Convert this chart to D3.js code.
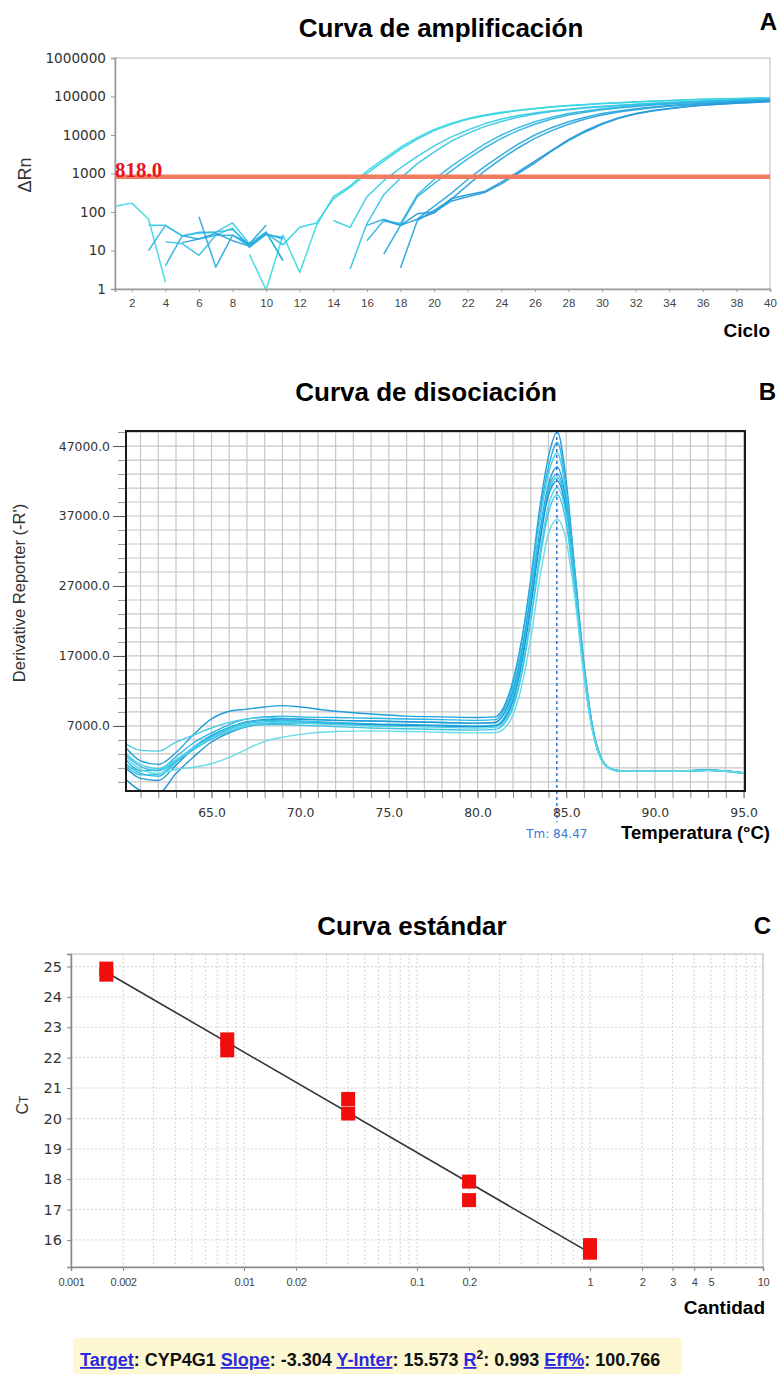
<!DOCTYPE html>
<html>
<head>
<meta charset="utf-8">
<script src="https://d3js.org/d3.v7.min.js"></script>
<style>
  html, body { margin: 0; padding: 0; background: #ffffff; }
  svg { display: block; }
</style>
</head>
<body>
<div id="chart"></div>
<script>
// ---------------- DATA ----------------
// Panel A: amplification curves (ΔRn per cycle; null = not plotted)
const cycles = [1,2,3,4,5,6,7,8,9,10,11,12,13,14,15,16,17,18,19,20,21,22,23,24,25,26,27,28,29,30,31,32,33,34,35,36,37,38,39,40];
const n = null;
const amp1  = [140,170,65,1.5,n,n,n,n,8,0.95,25,2.7,45,250,480,1150,2400,4800,8500,14000,20000,27000,33000,39000,44000,49000,54000,58000,62000,66000,69000,72000,75000,78000,81000,83000,85000,87000,88500,90000];
const amp2  = [n,n,n,n,n,n,n,n,n,n,14,40,52,220,440,1000,2100,4300,7800,13000,19000,25500,31500,37500,43000,48000,53000,57500,61500,65500,69000,72500,76000,79000,82000,84500,87000,89000,91000,93000];
const amp3  = [n,n,45,45,24,28,30,52,15,30,5.5,n,n,60,40,250,650,1400,2800,5200,8800,13500,19500,26000,32000,37500,42500,47000,51500,55500,59500,63000,66500,70000,73000,76000,79000,82000,85000,88000];
const amp4  = [n,n,n,17,15,7.5,25,38,12,26,22,n,n,n,3.3,50,280,750,1800,3600,6800,11000,16500,22500,29000,35000,40500,45500,50000,54000,58000,62000,65500,69000,72000,75000,78000,81000,84000,87000];
const amp5  = [n,n,10,45,24,30,30,35,14,28,14,n,n,n,n,18,60,50,280,700,1500,3000,5800,10000,15500,22000,29000,36000,42000,48000,53000,58000,62000,66000,70000,73000,76000,79000,82000,85000];
const amp6  = [n,n,n,4,24,20,25,25,13,30,5.5,n,n,n,n,45,65,45,250,550,1150,2400,4600,8200,13000,19000,26000,33000,39000,45000,50000,55000,60000,64000,68000,71500,75000,78000,81000,84000];
const amp7  = [n,n,n,n,n,75,3.7,25,15,45,n,n,n,n,n,n,8,45,65,140,300,700,1500,3000,5800,10000,15500,22000,29000,36000,42000,48000,53000,58000,62500,66500,70000,73500,76500,80000];
const amp8  = [n,n,n,n,16,20,28,18,13,27,20,n,n,n,n,n,n,3.5,60,110,210,500,1150,2400,4600,8200,13000,19000,26000,33000,39500,45500,51000,56000,60500,64500,68000,71500,74500,78000];
const amp9  = [n,n,n,n,n,n,n,n,n,n,n,n,n,n,n,n,60,45,90,100,190,250,320,540,1000,1900,3800,7200,12000,19000,27000,35000,42000,48000,54000,59000,63000,67000,70000,73000];
const amp10 = [n,n,n,n,n,n,n,n,n,n,n,n,n,n,n,n,n,n,65,95,220,280,340,600,1100,2100,4000,7600,13000,20000,28000,36000,43000,49000,55000,60000,64000,68000,71000,75000];
const ampSeries = [amp1, amp2, amp3, amp4, amp5, amp6, amp7, amp8, amp9, amp10];
const ampColors = ["#3fdae4","#38d4e3","#3dcce5","#3ac5e4","#34bae3","#2fb2e1","#2caadf","#2aa4dd","#289ddb","#289ad9"];
const ampYTicks = [1,10,100,1000,10000,100000,1000000];
const ampXTicks = [2,4,6,8,10,12,14,16,18,20,22,24,26,28,30,32,34,36,38,40];
const threshold = 818.0;

// Panel B: melt (dissociation) curves
const temps = [60.2,61,62,63,64,65,66,67,68,69,70,72,74,76,78,80,81,81.5,82,82.5,83,83.5,84,84.5,85,85.5,86,86.5,87,87.5,88,89,90,91,92,93,94,95];
const melt1  = [3800,2000,1500,3200,5800,8000,9100,9400,9700,9900,9700,9100,8700,8400,8300,8200,8300,9800,13500,19500,28000,38000,45500,49000,42000,29000,16000,6800,2300,900,600,560,550,560,620,700,560,300];
const melt2  = [2100,600,700,2600,4600,6000,7200,8000,8300,8400,8300,8200,8100,8000,7900,7800,7900,9400,13000,19000,27500,37000,44000,47500,41000,28500,15500,6500,2200,850,580,550,540,560,600,680,540,290];
const melt3  = [4400,3500,3400,4700,5700,6700,7500,8000,8200,8100,8000,7800,7700,7600,7500,7400,7500,8900,12500,18000,26500,36000,43000,46000,40000,28000,15500,6600,2300,900,600,560,550,560,610,690,550,300];
const melt4  = [900,-500,-800,1400,3800,5600,6800,7600,7900,8000,7950,7800,7700,7600,7500,7400,7500,8800,12000,17500,25500,34500,41500,44000,39000,27500,15000,6400,2200,880,590,550,540,550,600,670,550,290];
const melt5  = [1500,200,-200,1800,4000,5700,6800,7500,7800,7800,7700,7500,7300,7200,7100,7000,7100,8200,11500,17000,25000,34000,41000,43000,38500,27000,14800,6300,2100,860,580,550,540,550,600,660,540,280];
const melt6  = [2800,1200,600,2000,3800,5400,6600,7300,7600,7700,7600,7400,7200,7100,7000,6900,7000,8000,11000,16500,24500,33500,40500,42500,38000,27000,15000,6400,2150,870,580,550,540,550,600,660,540,280];
const melt7  = [-700,-2200,-2600,200,2600,4700,6000,6900,7300,7400,7400,7300,7200,7100,7000,6900,7000,7900,10500,16000,24000,33000,40000,42000,37500,26500,14500,6200,2100,850,580,550,540,550,590,650,530,280];
const melt8  = [3000,1500,900,2200,3900,5300,6400,7100,7400,7500,7400,7200,7000,6900,6800,6700,6800,7600,10000,15000,22500,31500,38500,41000,37000,26500,14800,6300,2150,870,580,550,540,550,590,650,530,280];
const melt9  = [1200,0,100,1900,3600,5100,6200,6900,7200,7200,7100,6900,6700,6600,6500,6400,6500,7300,9600,14500,22000,30500,37500,40000,36000,26000,14500,6200,2100,860,580,550,540,550,590,650,530,280];
const melt10 = [2500,800,200,800,1100,1600,2500,3700,4800,5400,5800,6200,6300,6200,6100,6000,6050,6600,8600,12800,19500,28000,34500,36500,33500,25000,14000,6000,2050,850,570,550,540,550,590,650,530,280];
const meltSeries = [melt1, melt2, melt3, melt4, melt5, melt6, melt7, melt8, melt9, melt10];
const meltColors = ["#229fda","#2bb4e3","#48cbe8","#2298d7","#2fbce4","#38c3e6","#1f94d5","#55d2e8","#3cc6e3","#66dbe9"];
const meltYTicks = [7000,17000,27000,37000,47000];
const meltXTicks = [65,70,75,80,85,90,95];
const tm = 84.47;

// Panel C: standard curve
const quantities = [0.0016,0.0016,0.008,0.008,0.04,0.04,0.2,0.2,1,1];
const ctValues   = [24.93,24.73,22.60,22.24,20.64,20.16,17.92,17.31,15.83,15.58];
const stdYTicks = [16,17,18,19,20,21,22,23,24,25];
const stdXTicks = [0.001,0.002,0.01,0.02,0.1,0.2,1,2,3,4,5,10];
const stdXLabels = ["0.001","0.002","0.01","0.02","0.1","0.2","1","2","3","4","5","10"];
const target = "CYP4G1";
const slope = -3.304;
const yInter = 15.573;
const r2 = 0.993;
const eff = 100.766;

// ---------------- DRAW ----------------
const W = 779, H = 1374;
const SANS = "'Liberation Sans', Arial, sans-serif";
const DEJA = "'DejaVu Sans', sans-serif";
const svg = d3.select("#chart").append("svg").attr("width", W).attr("height", H);
svg.append("rect").attr("width", W).attr("height", H).attr("fill", "#fff");
const defs = svg.append("defs");

function title(txt, x, y) {
  svg.append("text").attr("x", x).attr("y", y).attr("text-anchor", "middle")
    .attr("font-family", SANS).attr("font-weight", "bold").attr("font-size", 26).attr("fill", "#000").text(txt);
}
function letter(txt, x, y) {
  svg.append("text").attr("x", x).attr("y", y).attr("text-anchor", "end")
    .attr("font-family", SANS).attr("font-weight", "bold").attr("font-size", 24).attr("fill", "#000").text(txt);
}

// ===== Panel A =====
title("Curva de amplificación", 441, 37);
letter("A", 777, 30);
const xA = d3.scaleLinear().domain([1, 40]).range([115, 770]);
const yA = d3.scaleLog().domain([1, 1e6]).range([289, 58]);
const gA = svg.append("g");
gA.append("rect").attr("x", 115).attr("y", 58).attr("width", 655).attr("height", 231)
  .attr("fill", "none").attr("stroke", "#cfcfcf").attr("stroke-width", 1.5);
defs.append("clipPath").attr("id", "clipA").append("rect")
  .attr("x", 115).attr("y", 58).attr("width", 655).attr("height", 231);

const axA_y = gA.append("g").attr("transform", "translate(115,0)")
  .call(d3.axisLeft(yA).tickValues(ampYTicks).tickFormat(d3.format("d")).tickSize(4).tickPadding(5));
axA_y.selectAll("text").attr("font-family", DEJA).attr("font-size", 13.6).attr("fill", "#333");
axA_y.selectAll("line").attr("stroke", "#999");
axA_y.select(".domain").attr("stroke", "#999").attr("stroke-width", 1.5);

const axA_x = gA.append("g").attr("transform", "translate(0,289)")
  .call(d3.axisBottom(xA).tickValues(ampXTicks).tickFormat(d3.format("d")).tickSize(3).tickPadding(7));
axA_x.selectAll("text").attr("font-family", SANS).attr("font-size", 11.5).attr("fill", "#444");
axA_x.selectAll("line").attr("stroke", "#999");
axA_x.select(".domain").attr("stroke", "#999").attr("stroke-width", 1.5);

const lineA = d3.line()
  .defined(d => d[1] !== null)
  .x(d => xA(d[0]))
  .y(d => yA(d[1]));
const linesA = gA.append("g").attr("clip-path", "url(#clipA)");
ampSeries.forEach((s, i) => {
  linesA.append("path").datum(cycles.map((c, j) => [c, s[j]]))
    .attr("d", lineA).attr("fill", "none").attr("stroke", ampColors[i])
    .attr("stroke-width", 1.5).attr("stroke-linejoin", "round").attr("opacity", 0.95);
});
gA.append("line").attr("x1", xA(1)).attr("x2", xA(40)).attr("y1", yA(threshold)).attr("y2", yA(threshold))
  .attr("stroke", "#f27a5e").attr("stroke-width", 4.5);
gA.append("text").attr("x", 115).attr("y", 177).attr("font-family", "'Liberation Serif', 'DejaVu Serif', serif")
  .attr("font-weight", "bold").attr("font-size", 21).attr("fill", "#e8141e").text(threshold.toFixed(1));
gA.append("text").attr("transform", "translate(31,175) rotate(-90)").attr("text-anchor", "middle")
  .attr("font-family", SANS).attr("font-size", 18).attr("fill", "#333").text("ΔRn");
gA.append("text").attr("x", 770).attr("y", 337).attr("text-anchor", "end")
  .attr("font-family", SANS).attr("font-weight", "bold").attr("font-size", 19).attr("fill", "#000").text("Ciclo");

// ===== Panel B =====
title("Curva de disociación", 426, 401);
letter("B", 776, 400);
const xB = d3.scaleLinear().domain([60.18, 95.08]).range([126, 745]);
const yB = d3.scaleLinear().domain([-2300, 49150]).range([791, 431]);
const gB = svg.append("g");
const gridB = gB.append("g");
d3.range(61, 96).forEach(t => {
  gridB.append("line").attr("x1", xB(t)).attr("x2", xB(t)).attr("y1", 431).attr("y2", 791)
    .attr("stroke", "#c6c6c6").attr("stroke-width", 1.2);
});
const yGridB = d3.range(-1000, 49001, 2000);
yGridB.forEach(v => {
  gridB.append("line").attr("x1", 126).attr("x2", 745).attr("y1", yB(v)).attr("y2", yB(v))
    .attr("stroke", "#c6c6c6").attr("stroke-width", 1.2);
});
// minor ticks
const minorY = gB.append("g").attr("transform", "translate(126,0)")
  .call(d3.axisLeft(yB).tickValues(yGridB).tickSize(8).tickFormat(""));
minorY.selectAll("line").attr("stroke", "#999");
minorY.select(".domain").remove();
const axB_y = gB.append("g").attr("transform", "translate(126,0)")
  .call(d3.axisLeft(yB).tickValues(meltYTicks).tickFormat(d3.format(".1f")).tickSize(13).tickPadding(3));
axB_y.selectAll("text").attr("font-family", DEJA).attr("font-size", 12.4).attr("fill", "#333");
axB_y.selectAll("line").attr("stroke", "#555");
axB_y.select(".domain").remove();
const minorX = gB.append("g").attr("transform", "translate(0,791)")
  .call(d3.axisBottom(xB).tickValues(d3.range(61, 96)).tickSize(7).tickFormat(""));
minorX.selectAll("line").attr("stroke", "#888");
minorX.select(".domain").remove();
const axB_x = gB.append("g").attr("transform", "translate(0,791)")
  .call(d3.axisBottom(xB).tickValues(meltXTicks).tickFormat(d3.format(".1f")).tickSize(7).tickPadding(10));
axB_x.selectAll("text").attr("font-family", DEJA).attr("font-size", 12.4).attr("fill", "#333");
axB_x.selectAll("line").attr("stroke", "#888");
axB_x.select(".domain").remove();

defs.append("clipPath").attr("id", "clipB").append("rect")
  .attr("x", 126).attr("y", 431).attr("width", 619).attr("height", 360);
const lineB = d3.line().curve(d3.curveMonotoneX).x(d => xB(d[0])).y(d => yB(d[1]));
const linesB = gB.append("g").attr("clip-path", "url(#clipB)");
meltSeries.forEach((s, i) => {
  linesB.append("path").datum(temps.map((t, j) => [t, s[j]]))
    .attr("d", lineB).attr("fill", "none").attr("stroke", meltColors[i]).attr("stroke-width", 1.4);
});
gB.append("line").attr("x1", xB(tm)).attr("x2", xB(tm)).attr("y1", 431).attr("y2", 822)
  .attr("stroke", "#2b6fd8").attr("stroke-width", 1.5).attr("stroke-dasharray", "3,3");
gB.append("rect").attr("x", 126).attr("y", 431).attr("width", 619).attr("height", 360)
  .attr("fill", "none").attr("stroke", "#1a1a1a").attr("stroke-width", 2);
gB.append("text").attr("x", xB(tm)).attr("y", 838).attr("text-anchor", "middle")
  .attr("font-family", DEJA).attr("font-size", 12).attr("fill", "#3a78d0").text("Tm: " + tm.toFixed(2));
gB.append("text").attr("x", 770).attr("y", 839).attr("text-anchor", "end")
  .attr("font-family", SANS).attr("font-weight", "bold").attr("font-size", 18.5).attr("fill", "#000").text("Temperatura (°C)");
gB.append("text").attr("transform", "translate(25,593) rotate(-90)").attr("text-anchor", "middle")
  .attr("font-family", SANS).attr("font-size", 16.5).attr("fill", "#333").text("Derivative Reporter (-R')");

// ===== Panel C =====
title("Curva estándar", 412, 935);
letter("C", 771, 934);
const xC = d3.scaleLog().domain([0.001, 10]).range([71, 763]);
const yC = d3.scaleLinear().domain([15.11, 25.41]).range([1267, 954]);
const gC = svg.append("g");
const gridC = gC.append("g");
const minorLog = [];
[0.001, 0.01, 0.1, 1].forEach(dec => { for (let k = 1; k <= 9; k++) minorLog.push(dec * k); });
minorLog.push(10);
minorLog.forEach(q => {
  gridC.append("line").attr("x1", xC(q)).attr("x2", xC(q)).attr("y1", 954).attr("y2", 1267)
    .attr("stroke", "#d4d4d4").attr("stroke-width", 1).attr("stroke-dasharray", "2,2");
});
stdYTicks.forEach(v => {
  gridC.append("line").attr("x1", 71).attr("x2", 763).attr("y1", yC(v)).attr("y2", yC(v))
    .attr("stroke", "#d4d4d4").attr("stroke-width", 1).attr("stroke-dasharray", "2,2");
});
gC.append("rect").attr("x", 71).attr("y", 954).attr("width", 692).attr("height", 313)
  .attr("fill", "none").attr("stroke", "#c4c4c4").attr("stroke-width", 1.2);
const axC_y = gC.append("g").attr("transform", "translate(71,0)")
  .call(d3.axisLeft(yC).tickValues(stdYTicks).tickFormat(d3.format("d")).tickSize(4).tickPadding(5));
axC_y.selectAll("text").attr("font-family", DEJA).attr("font-size", 14.5).attr("fill", "#333");
axC_y.selectAll("line").attr("stroke", "#888");
axC_y.select(".domain").attr("stroke", "#888").attr("stroke-width", 1.5);
const axC_x = gC.append("g").attr("transform", "translate(0,1267)")
  .call(d3.axisBottom(xC).tickValues(stdXTicks).tickFormat((d, i) => stdXLabels[i]).tickSize(4).tickPadding(7.5));
axC_x.selectAll("text").attr("font-family", SANS).attr("font-size", 11).attr("fill", "#444").attr("letter-spacing", -0.3);
axC_x.selectAll("line").attr("stroke", "#888");
axC_x.select(".domain").attr("stroke", "#888").attr("stroke-width", 1.5);

const qMin = d3.min(quantities), qMax = d3.max(quantities);
gC.append("line")
  .attr("x1", xC(qMin)).attr("y1", yC(yInter + slope * Math.log10(qMin)))
  .attr("x2", xC(qMax)).attr("y2", yC(yInter + slope * Math.log10(qMax)))
  .attr("stroke", "#333").attr("stroke-width", 1.6);
gC.selectAll("rect.pt").data(quantities.map((q, i) => [q, ctValues[i]])).enter()
  .append("rect").attr("class", "pt")
  .attr("x", d => xC(d[0]) - 7).attr("y", d => yC(d[1]) - 7)
  .attr("width", 14).attr("height", 14).attr("fill", "#f20d0d");

const ctLabel = gC.append("text").attr("transform", "translate(28,1105) rotate(-90)").attr("text-anchor", "middle")
  .attr("font-family", SANS).attr("font-size", 16).attr("fill", "#333");
ctLabel.append("tspan").text("C");
ctLabel.append("tspan").attr("font-size", 12).text("T");
gC.append("text").attr("x", 765).attr("y", 1314).attr("text-anchor", "end")
  .attr("font-family", SANS).attr("font-weight", "bold").attr("font-size", 19).attr("fill", "#000").text("Cantidad");

// Footer
svg.append("rect").attr("x", 73).attr("y", 1338).attr("width", 609).attr("height", 36).attr("fill", "#fdf8d2");
const ft = svg.append("text").attr("x", 80).attr("y", 1366)
  .attr("font-family", SANS).attr("font-weight", "bold").attr("font-size", 18).attr("fill", "#111");
const BLUE = "#2a2ae0";
function link(t) { ft.append("tspan").attr("fill", BLUE).attr("text-decoration", "underline").text(t); }
function plain(t) { ft.append("tspan").attr("fill", "#111").text(t); }
link("Target"); plain(": " + target + " ");
link("Slope"); plain(": " + slope.toFixed(3) + " ");
link("Y-Inter"); plain(": " + yInter.toFixed(3) + " ");
link("R");
ft.append("tspan").attr("fill", "#111").attr("font-size", 12).attr("dy", -7).text("2");
ft.append("tspan").attr("fill", "#111").attr("dy", 7).text(": " + r2.toFixed(3) + " ");
link("Eff%"); plain(": " + eff.toFixed(3));
</script>
</body>
</html>
